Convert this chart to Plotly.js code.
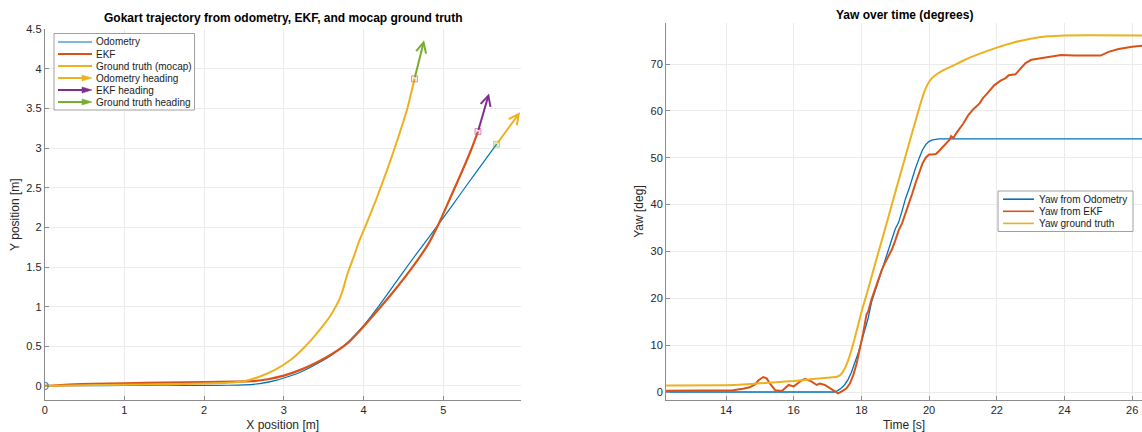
<!DOCTYPE html>
<html>
<head>
<meta charset="utf-8">
<script src="https://cdn.plot.ly/plotly-3.0.1.min.js"></script>
<style>
  html, body { margin: 0; padding: 0; background: #ffffff; }
  #chart { width: 1142px; height: 432px; }
</style>
</head>
<body>
<div id="chart"></div>
<script>
// ---- Trajectories in the ground plane [m] ----
const odomX = [0, 0.5, 1.0, 1.5, 2.0, 2.3, 2.5, 2.7, 2.9, 3.0, 3.2, 3.4, 3.6, 3.8, 4.0, 4.2, 4.4, 4.6, 4.8, 5.0, 5.2, 5.4, 5.67];
const odomY = [0, 0.004, 0.007, 0.009, 0.008, 0.009, 0.013, 0.03, 0.07, 0.1, 0.17, 0.27, 0.39, 0.55, 0.76, 1.02, 1.3, 1.58, 1.85, 2.12, 2.4, 2.68, 3.05];

const ekfX = [0, 0.3, 0.6, 1.0, 1.5, 2.0, 2.4, 2.6, 2.8, 3.0, 3.2, 3.4, 3.6, 3.8, 4.0, 4.2, 4.4, 4.6, 4.8, 4.95, 5.1, 5.25, 5.35, 5.436];
const ekfY = [0, 0.018, 0.028, 0.034, 0.043, 0.05, 0.054, 0.06, 0.085, 0.13, 0.2, 0.29, 0.4, 0.54, 0.75, 0.98, 1.22, 1.48, 1.77, 2.06, 2.4, 2.74, 2.98, 3.21];

const gtX = [0, 0.5, 1.0, 1.5, 2.0, 2.3, 2.5, 2.7, 2.9, 3.1, 3.24, 3.37, 3.5, 3.58, 3.65, 3.7, 3.74, 3.8, 3.87, 3.95, 4.05, 4.15, 4.25, 4.35, 4.45, 4.55, 4.64];
const gtY = [0, 0.008, 0.016, 0.022, 0.03, 0.04, 0.06, 0.12, 0.21, 0.34, 0.47, 0.61, 0.77, 0.88, 1.0, 1.1, 1.21, 1.42, 1.61, 1.84, 2.08, 2.33, 2.6, 2.88, 3.18, 3.5, 3.875];

// ---- Yaw over time [deg] ----
const odomT = [12.23, 14, 16, 17.2, 17.3, 17.4, 17.5, 17.6, 17.7, 17.8, 17.9, 18.0, 18.1, 18.2, 18.3, 18.4, 18.5, 18.6, 18.7, 18.8, 18.9, 19.0, 19.1, 19.2, 19.3, 19.4, 19.5, 19.6, 19.7, 19.8, 19.9, 20.0, 20.1, 20.2, 20.3, 20.5, 22, 24, 26.3];
const odomYaw = [0, 0, 0, 0, 0.3, 0.8, 1.5, 2.6, 4.1, 6.0, 8.2, 10.7, 13.2, 15.8, 19.2, 21.5, 23.8, 26.2, 28.4, 30.5, 32.6, 34.8, 36.2, 38.6, 41.2, 43.2, 45.6, 47.8, 49.8, 51.6, 52.8, 53.5, 53.8, 53.95, 54, 54, 54, 54, 54];

const ekfT = [12.23, 13.5, 14.2, 14.5, 14.7, 14.86, 14.96, 15.1, 15.2, 15.3, 15.45, 15.65, 15.75, 15.85, 16.0, 16.1, 16.24, 16.34, 16.43, 16.53, 16.68, 16.77, 16.92, 17.06, 17.21, 17.31, 17.41, 17.56, 17.66, 17.76, 17.86, 17.95, 18.05, 18.15, 18.2, 18.3, 18.4, 18.5, 18.6, 18.7, 18.8, 18.9, 19.0, 19.1, 19.2, 19.3, 19.4, 19.5, 19.6, 19.7, 19.8, 19.9, 20.0, 20.1, 20.2, 20.3, 20.4, 20.5, 20.6, 20.65, 20.72, 20.8, 20.94, 21.0, 21.16, 21.3, 21.49, 21.6, 21.75, 21.93, 22.1, 22.26, 22.35, 22.45, 22.55, 22.7, 22.85, 23.02, 23.2, 23.35, 23.6, 23.9, 24.3, 25.07, 25.3, 25.6, 26.0, 26.3];
const ekfYaw = [0.28, 0.32, 0.4, 0.7, 1.0, 1.6, 2.5, 3.2, 2.9, 1.8, 0.4, 0.2, 0.8, 1.5, 1.2, 1.8, 2.5, 2.8, 2.5, 2.2, 1.5, 1.8, 1.5, 0.8, 0.1, -0.3, 0.1, 0.8, 1.8, 3.6, 6.1, 9.0, 12.5, 16.5, 17.2, 19.8, 22.0, 24.2, 26.0, 27.6, 28.9, 30.4, 32.3, 34.5, 36.0, 38.0, 40.0, 42.3, 44.6, 46.8, 48.7, 50.0, 50.7, 50.7, 50.8, 51.5, 52.3, 53.2, 53.8, 54.6, 54.2, 55.2, 56.6, 57.2, 59.1, 60.3, 61.6, 62.8, 64.0, 65.5, 66.4, 67.0, 67.6, 67.7, 67.8, 69.0, 70.2, 70.9, 71.1, 71.3, 71.6, 71.9, 71.8, 71.8, 72.6, 73.2, 73.7, 73.9];

const gtT = [12.23, 14.0, 14.5, 15.0, 15.5, 16.0, 16.5, 17.0, 17.3, 17.4, 17.5, 17.6, 17.7, 17.8, 17.9, 18.0, 18.2, 18.4, 18.6, 18.8, 19.0, 19.2, 19.4, 19.6, 19.7, 19.8, 19.9, 20.0, 20.1, 20.2, 20.4, 20.7, 21.0, 21.5, 22.0, 22.5, 23.0, 23.5, 24.0, 26.3];
const gtYaw = [1.4, 1.45, 1.6, 1.85, 2.1, 2.35, 2.7, 3.05, 3.3, 3.8, 4.9, 6.6, 8.8, 11.4, 14.2, 17.0, 22.0, 27.2, 32.3, 37.4, 42.6, 47.7, 52.8, 57.9, 60.4, 62.8, 64.8, 66.2, 67.1, 67.7, 68.6, 69.6, 70.7, 72.2, 73.5, 74.6, 75.4, 75.9, 76.1, 76.1];

// ---- Tick positions ----
const posXTicks = [0, 1, 2, 3, 4, 5];
const posYTicks = [0, 0.5, 1, 1.5, 2, 2.5, 3, 3.5, 4, 4.5];
const timeTicks = [14, 16, 18, 20, 22, 24, 26];
const yawTicks = [0, 10, 20, 30, 40, 50, 60, 70];

// ---- Labels ----
const trajNames = ['Odometry', 'EKF', 'Ground truth (mocap)', 'Odometry heading', 'EKF heading', 'Ground truth heading'];
const yawNames = ['Yaw from Odometry', 'Yaw from EKF', 'Yaw ground truth'];

// ---- Style ----
const C = { blue: '#0072BD', red: '#D95319', yellow: '#EDB120', purple: '#7E2F8E', green: '#77AC30' };
const FONT = 'Liberation Sans, Arial, Helvetica, sans-serif';
const W = 1142, H = 432;
const fx = p => p / W;          // pixel column -> paper x
const fy = p => 1 - p / H;      // pixel row -> paper y
const HEADING_LEN = 0.5;        // heading arrow length [m]

const last = a => a[a.length - 1];
const deg = Math.PI / 180;

const traces = [
  { x: odomX, y: odomY, xaxis: 'x', yaxis: 'y', mode: 'lines', name: trajNames[0],
    line: { color: C.blue, width: 1.2, shape: 'spline', smoothing: 0.6 } },
  { x: ekfX, y: ekfY, xaxis: 'x', yaxis: 'y', mode: 'lines', name: trajNames[1],
    line: { color: C.red, width: 2.2, shape: 'spline', smoothing: 0.6 } },
  { x: gtX, y: gtY, xaxis: 'x', yaxis: 'y', mode: 'lines', name: trajNames[2],
    line: { color: C.yellow, width: 2, shape: 'spline', smoothing: 0.4 } },
  // start marker
  { x: [odomX[0]], y: [odomY[0]], xaxis: 'x', yaxis: 'y', mode: 'markers',
    marker: { symbol: 'circle-open', size: 7, color: 'rgba(0,114,189,0.75)', line: { width: 1.2 } } },
  // end markers
  { x: [last(gtX)], y: [last(gtY)], xaxis: 'x', yaxis: 'y', mode: 'markers',
    marker: { symbol: 'square', size: 6, color: 'rgba(217,83,25,0.12)', line: { width: 1, color: 'rgba(217,83,25,0.55)' } } },
  { x: [last(ekfX)], y: [last(ekfY)], xaxis: 'x', yaxis: 'y', mode: 'markers',
    marker: { symbol: 'square', size: 6, color: 'rgba(200,90,150,0.15)', line: { width: 1, color: 'rgba(190,80,140,0.6)' } } },
  { x: [last(odomX)], y: [last(odomY)], xaxis: 'x', yaxis: 'y', mode: 'markers',
    marker: { symbol: 'square', size: 6, color: 'rgba(119,172,48,0.25)', line: { width: 1, color: 'rgba(119,172,48,0.45)' } } },

  { x: odomT, y: odomYaw, xaxis: 'x2', yaxis: 'y2', mode: 'lines', name: yawNames[0],
    line: { color: C.blue, width: 1.3 } },
  { x: ekfT, y: ekfYaw, xaxis: 'x2', yaxis: 'y2', mode: 'lines', name: yawNames[1],
    line: { color: C.red, width: 2 } },
  { x: gtT, y: gtYaw, xaxis: 'x2', yaxis: 'y2', mode: 'lines', name: yawNames[2],
    line: { color: C.yellow, width: 2, shape: 'spline', smoothing: 0.5 } }
];

// heading arrows: from each trajectory end along its final yaw
function headingArrow(px, py, yawDeg, color) {
  return {
    xref: 'x', yref: 'y', axref: 'x', ayref: 'y',
    ax: px, ay: py,
    x: px + HEADING_LEN * Math.cos(yawDeg * deg),
    y: py + HEADING_LEN * Math.sin(yawDeg * deg),
    text: '', showarrow: true, arrowhead: 5, arrowsize: 1, arrowwidth: 2,
    arrowcolor: color, standoff: 0, startstandoff: 0
  };
}

const annotations = [
  headingArrow(last(odomX), last(odomY), last(odomYaw), C.yellow),
  headingArrow(last(ekfX), last(ekfY), last(ekfYaw), C.purple),
  headingArrow(last(gtX), last(gtY), last(gtYaw), C.green),
  { xref: 'paper', yref: 'paper', x: fx(282.7), y: fy(17.8), xanchor: 'center', yanchor: 'middle',
    text: '<b>Gokart trajectory from odometry, EKF, and mocap ground truth</b>', showarrow: false,
    font: { family: FONT, size: 12, color: '#000' } },
  { xref: 'paper', yref: 'paper', x: fx(904), y: fy(15.3), xanchor: 'center', yanchor: 'middle',
    text: '<b>Yaw over time (degrees)</b>', showarrow: false,
    font: { family: FONT, size: 12, color: '#000' } }
];

const shapes = [];

// legend boxes drawn in pixel-aligned paper space
function legendBox(x0, y0, x1, y1) {
  shapes.push({ type: 'rect', xref: 'paper', yref: 'paper', x0: fx(x0), x1: fx(x1), y0: fy(y0), y1: fy(y1),
    fillcolor: '#ffffff', line: { color: '#a0a0a0', width: 1 }, layer: 'above' });
}
function legendEntry(label, color, width, yc, lx0, lx1, tx, arrow) {
  shapes.push({ type: 'line', xref: 'paper', yref: 'paper', x0: fx(lx0), x1: fx(arrow ? lx1 - 6 : lx1),
    y0: fy(yc), y1: fy(yc), line: { color: color, width: width }, layer: 'above' });
  if (arrow) {
    const p = `M ${fx(lx1 - 10)} ${fy(yc - 3)} L ${fx(lx1)} ${fy(yc)} L ${fx(lx1 - 10)} ${fy(yc + 3)} Z`;
    shapes.push({ type: 'path', xref: 'paper', yref: 'paper', path: p,
      fillcolor: color, line: { color: color, width: 0.5 }, layer: 'above' });
  }
  annotations.push({ xref: 'paper', yref: 'paper', x: fx(tx), y: fy(yc), xanchor: 'left', yanchor: 'middle',
    text: label, showarrow: false, font: { family: FONT, size: 10, color: '#1a1a1a' } });
}

legendBox(54, 33.5, 194.5, 110);
const trajColors = [C.blue, C.red, C.yellow, C.yellow, C.purple, C.green];
const trajWidths = [1.2, 2.2, 2, 2, 2, 2];
trajNames.forEach((n, i) => legendEntry(n, trajColors[i], trajWidths[i], 42 + 12 * i, 58, 92, 93.5, i >= 3));

legendBox(998, 191, 1133, 231.5);
const yawColors = [C.blue, C.red, C.yellow];
yawNames.forEach((n, i) => legendEntry(n, yawColors[i], 1.6, 199.2 + 12.1 * i, 1003, 1034, 1036.5, false));

const axisBase = {
  showline: true, linecolor: '#8c8c8c', linewidth: 1, mirror: false,
  ticks: 'inside', ticklen: 4, tickcolor: '#8c8c8c', tickwidth: 1,
  showgrid: true, gridcolor: '#ebebeb', gridwidth: 1, zeroline: false,
  tickmode: 'array', tickfont: { family: FONT, size: 11, color: '#262626' },
  fixedrange: true
};
const titleFont = { family: FONT, size: 12, color: '#262626' };

const layout = {
  width: W, height: H,
  margin: { l: 0, r: 0, t: 0, b: 0 },
  paper_bgcolor: '#ffffff', plot_bgcolor: '#ffffff',
  showlegend: false,
  font: { family: FONT },
  xaxis: Object.assign({}, axisBase, {
    domain: [fx(44.7), fx(520.7)], range: [0, 5.972], anchor: 'y', tickvals: posXTicks,
    title: { text: 'X position [m]', font: titleFont, standoff: 7 }
  }),
  yaxis: Object.assign({}, axisBase, {
    domain: [fy(400), fy(29.3)], range: [-0.177, 4.5], anchor: 'x', tickvals: posYTicks,
    title: { text: 'Y position [m]', font: titleFont, standoff: 3 }
  }),
  xaxis2: Object.assign({}, axisBase, {
    domain: [fx(666), 1], range: [12.227, 26.29], anchor: 'y2', tickvals: timeTicks,
    title: { text: 'Time [s]', font: titleFont, standoff: 7 }
  }),
  yaxis2: Object.assign({}, axisBase, {
    domain: [fy(400), fy(23)], range: [-1.707, 78.75], anchor: 'x2', tickvals: yawTicks,
    title: { text: 'Yaw [deg]', font: titleFont, standoff: 4 }
  }),
  annotations: annotations,
  shapes: shapes
};

Plotly.newPlot('chart', traces, layout, { displayModeBar: false, staticPlot: true });
</script>
</body>
</html>
